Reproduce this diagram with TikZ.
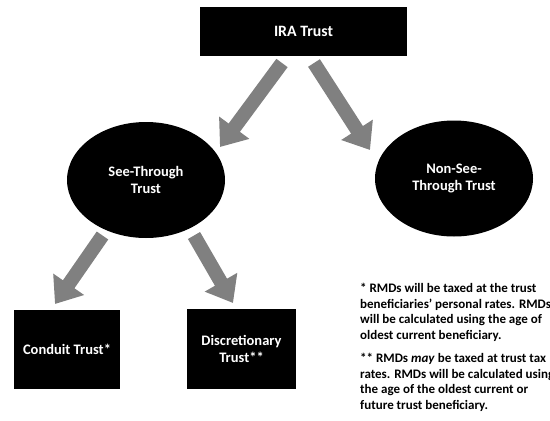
\documentclass[tikz,border=0pt]{standalone}
\usepackage{fontspec}
\setmainfont{Carlito}
\usetikzlibrary{arrows.meta,shapes.geometric}
\tikzset{
	blkbox/.style={rectangle,fill=black,text=white,inner sep=0pt,align=center,
		font=\fontsize{14.5}{17}\selectfont\bfseries},
	blkoval/.style={ellipse,fill=black,text=white,inner sep=0pt,align=center,
		minimum width=158pt,minimum height=116pt,font=\fontsize{14.5}{17}\selectfont\bfseries},
	flow/.style={draw=gray,line width=14pt,-{Triangle[width=36pt,length=24pt]}},
	note/.style={anchor=north west,inner sep=0pt,align=left,
		font=\fontsize{13}{15.6}\selectfont\bfseries}
}
\begin{document}
\begin{tikzpicture}[x=1pt,y=-1pt,line join=round]
	\useasboundingbox (0,0) rectangle (550,421);
	\node[blkbox,minimum width=207pt,minimum height=49pt,font=\fontsize{15.8}{18}\selectfont\bfseries] (ira) at (303.5,31.5) {IRA Trust};
	\node[blkoval] (see) at (146,180) {See-Through\\Trust};
	\node[blkoval] (nonsee) at (454,178.5) {Non-See-\\Through Trust};
	\node[blkbox,minimum width=106pt,minimum height=79pt] (conduit) at (67,349) {Conduit Trust*};
	\node[blkbox,minimum width=109pt,minimum height=80pt] (discr) at (241.5,349) {Discretionary\\Trust**};
	%arrow ends
	\path
	(282,63)coordinate(ira1) (220,147)coordinate(see1)
	(314,63)coordinate(ira2) (370,150)coordinate(nonsee1)
	(102.5,235.5)coordinate(see2) (55,304)coordinate(conduit1)
	(194,235.5)coordinate(see3) (233,303)coordinate(discr1)
	;
	\draw[flow] (ira1)--(see1);
	\draw[flow] (ira2)--(nonsee1);
	\draw[flow] (see2)--(conduit1);
	\draw[flow] (see3)--(discr1);
	%notes
	\node[note] (note1) at (360,283) {* RMDs will be taxed at the trust\\beneficiaries' personal rates. RMDs\\will be calculated using the age of\\oldest current beneficiary.};
	\node[note] (note2) at (360,353) {** RMDs \textit{may} be taxed at trust tax\\rates. RMDs will be calculated using\\the age of the oldest current or\\future trust beneficiary.};
\end{tikzpicture}
\end{document}
